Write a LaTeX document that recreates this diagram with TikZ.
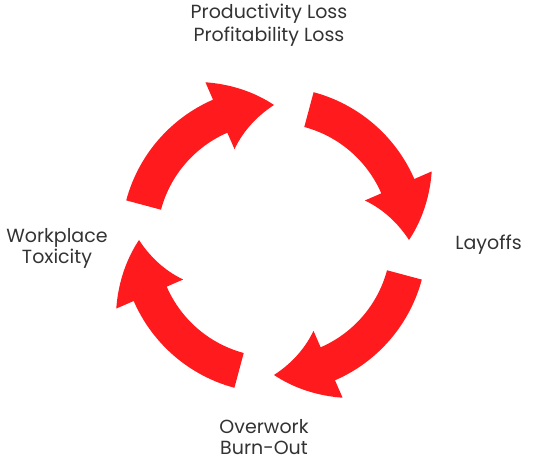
\documentclass[tikz,border=0pt]{standalone}
\usepackage{fontspec}
\setmainfont{Poppins}
\definecolor{arrowred}{RGB}{255,27,29}
\definecolor{labelgray}{RGB}{51,51,51}
\begin{document}
\begin{tikzpicture}[x=1bp,y=1bp,
  lbl/.style={text=labelgray,font=\fontsize{19bp}{22bp}\selectfont,inner sep=0pt,anchor=base}]
\useasboundingbox (0,0) rectangle (550,459);
\coordinate (C) at (274,219);
\foreach \k in {0,1,2,3}{
  \begin{scope}[shift={(C)},rotate=-90*\k]
    \fill[arrowred] (165:153) arc[start angle=165,end angle=113.5,radius=153bp]
      -- (113.5:172)
      -- plot[domain=113.5:90,variable=\t,samples=24] (\t:{172-37*(113.5-\t)/23.5})
      -- plot[domain=90:113.5,variable=\t,samples=24] (\t:{135-36*(\t-90)/23.5})
      -- (113.5:117) arc[start angle=113.5,end angle=165,radius=117bp]
      -- cycle;
  \end{scope}
}
\node[lbl] (t1) at (269,440) {Productivity Loss};
\node[lbl] (t2) at (269,417.3) {Profitability Loss};
\node[lbl] (r1) at (488.5,209) {Layoffs};
\node[lbl] (b1) at (264,25) {Overwork};
\node[lbl] (b2) at (264,4) {Burn-Out};
\node[lbl] (l1) at (57,216.7) {Workplace};
\node[lbl] (l2) at (57,195.7) {Toxicity};
\end{tikzpicture}
\end{document}
